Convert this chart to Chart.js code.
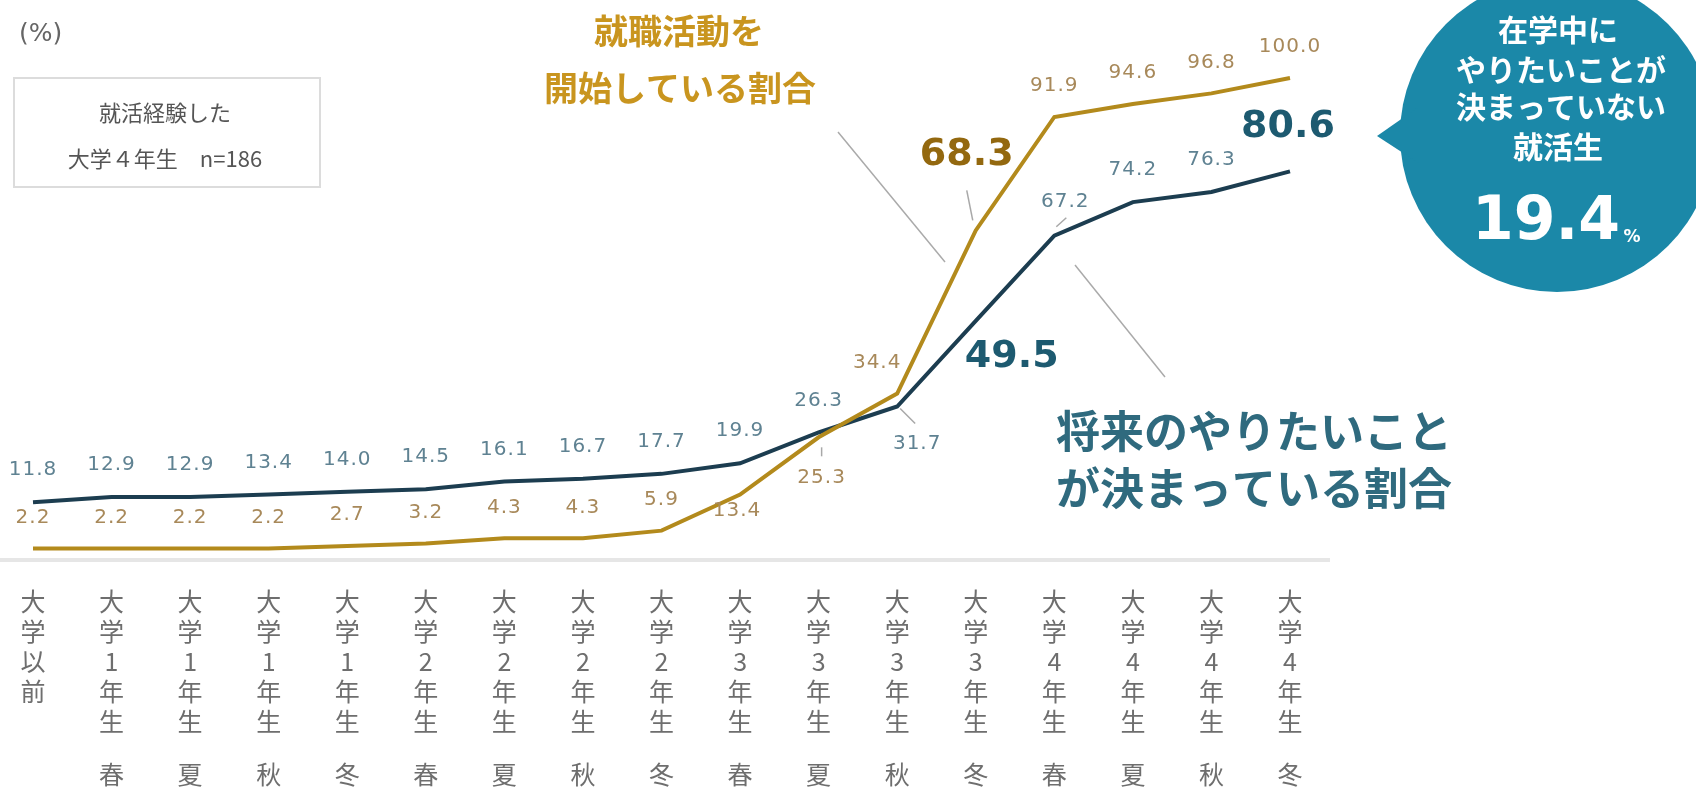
<!DOCTYPE html>
<html><head><meta charset="utf-8">
<script src="https://cdn.jsdelivr.net/npm/chart.js@4"></script>
<style>html,body{margin:0;padding:0;background:#fff;overflow:hidden}</style>
</head><body>
<canvas id="c" width="1696" height="789"></canvas>
<script>
// ---- data ----
const categories = ['大学以前','大学1年生','大学1年生','大学1年生','大学1年生','大学2年生','大学2年生','大学2年生','大学2年生','大学3年生','大学3年生','大学3年生','大学3年生','大学4年生','大学4年生','大学4年生','大学4年生'];
const seasons = ['', '春','夏','秋','冬','春','夏','秋','冬','春','夏','秋','冬','春','夏','秋','冬'];
const jobHuntStarted = [2.2,2.2,2.2,2.2,2.7,3.2,4.3,4.3,5.9,13.4,25.3,34.4,68.3,91.9,94.6,96.8,100.0];
const wantDecided = [11.8,12.9,12.9,13.4,14.0,14.5,16.1,16.7,17.7,19.9,26.3,31.7,49.5,67.2,74.2,76.3,80.6];
const seriesNames = ['就職活動を開始している割合','将来のやりたいことが決まっている割合'];
const undecidedShare = '19.4';
const sampleNote = ['就活経験した','大学４年生　n=186'];

// ---- styling ----
const ORANGE = '#b38a1c', BLUE = '#1c3d50';
const JP = '"Noto Sans CJK JP", "Noto Sans", sans-serif';
const NUM = '"DejaVu Sans", Lato, sans-serif';
const TICK_COLOR = '#6e6e6e';

const xLabels = categories.map(c => Array.from(c));

// label offsets (dx, dy) relative to point, and special styles
const orangeOffsets = {9:[-3,16],10:[3,40],11:[-20,-31],12:[-9,-75]};
const blueOffsets = {11:[20,37],12:[36,36],13:[11,-34],16:[-2,-44]};
const orangeBig = {12:true};
const blueBig = {12:true,16:true};

function line(ctx, x1, y1, x2, y2, color, w) {
  ctx.save(); ctx.strokeStyle = color; ctx.lineWidth = w;
  ctx.beginPath(); ctx.moveTo(x1, y1); ctx.lineTo(x2, y2); ctx.stroke(); ctx.restore();
}

const decor = {
  id: 'decor',
  beforeDatasetsDraw(chart) {
    const ctx = chart.ctx;
    const y0 = chart.scales.y.getPixelForValue(0);
    line(ctx, 0, y0 + 1, 1330, y0 + 1, '#e6e6e6', 4);
  },
  afterDraw(chart) {
    const ctx = chart.ctx;
    const xs = chart.scales.x;
    const mo = chart.getDatasetMeta(0).data;
    const mb = chart.getDatasetMeta(1).data;
    ctx.save();
    ctx.textAlign = 'center';
    ctx.textBaseline = 'middle';

    // season row under the category ticks
    ctx.font = '25px ' + JP; ctx.fillStyle = TICK_COLOR;
    seasons.forEach((s, i) => { if (s) ctx.fillText(s, xs.getPixelForValue(i), 774); });

    // data labels
    const small = (txt, x, y, color) => {
      ctx.save();
      ctx.font = '20px ' + NUM; ctx.fillStyle = color;
      if ('letterSpacing' in ctx) ctx.letterSpacing = '1px';
      ctx.fillText(txt, x, y);
      ctx.restore();
    };
    jobHuntStarted.forEach((v, i) => {
      const p = mo[i];
      const off = orangeOffsets[i] || [0, -31];
      if (orangeBig[i]) {
        ctx.font = 'bold 38px ' + NUM; ctx.fillStyle = '#93680f';
        ctx.fillText(v.toFixed(1), p.x + off[0], p.y + off[1]);
      } else {
        small(v.toFixed(1), p.x + off[0], p.y + off[1], '#a8895a');
      }
    });
    wantDecided.forEach((v, i) => {
      const p = mb[i];
      const off = blueOffsets[i] || [0, -32];
      if (blueBig[i]) {
        ctx.font = 'bold 38px ' + NUM; ctx.fillStyle = '#1d5a70';
        ctx.fillText(v.toFixed(1), p.x + off[0], p.y + off[1]);
      } else {
        small(v.toFixed(1), p.x + off[0], p.y + off[1], '#5f8292');
      }
    });

    // small leader lines
    const g = '#a8a8a8';
    let p = mo[12]; line(ctx, p.x - 9, p.y - 40, p.x - 3, p.y - 10, g, 1.5);
    p = mb[13]; line(ctx, p.x + 2, p.y - 9, p.x + 12, p.y - 18, g, 1.5);
    p = mo[10]; line(ctx, p.x + 3, p.y + 10, p.x + 3, p.y + 19, g, 1.5);
    p = mb[11]; line(ctx, p.x + 3, p.y + 2, p.x + 18, p.y + 17, g, 1.5);

    // series annotation leader lines
    line(ctx, 838, 132, 945, 262, '#aaaaaa', 1.5);
    line(ctx, 1075, 265, 1165, 377, '#aaaaaa', 1.5);

    // series titles
    ctx.font = 'bold 34px ' + JP; ctx.fillStyle = '#c9951f';
    ctx.fillText('就職活動を', 679, 31);
    ctx.fillText('開始している割合', 680, 88);
    ctx.font = 'bold 44px ' + JP; ctx.fillStyle = '#2f6a7e';
    ctx.textAlign = 'left';
    ctx.fillText('将来のやりたいこと', 1056, 431);
    ctx.fillText('が決まっている割合', 1056, 488);

    // (%)
    ctx.font = '25px ' + NUM; ctx.fillStyle = '#666';
    ctx.fillText('(%)', 19, 34);

    // sample box
    ctx.strokeStyle = '#dcdcdc'; ctx.lineWidth = 2;
    ctx.strokeRect(14, 78, 306, 109);
    ctx.textAlign = 'center';
    ctx.font = '22px ' + JP; ctx.fillStyle = '#555';
    ctx.fillText(sampleNote[0], 165, 113);
    ctx.fillText(sampleNote[1], 165, 159);

    // speech bubble
    const cx = 1557, cy = 135, r = 157;
    ctx.fillStyle = '#1b88a8';
    ctx.beginPath(); ctx.arc(cx, cy, r, 0, Math.PI * 2); ctx.fill();
    ctx.beginPath(); ctx.moveTo(1377, 136); ctx.lineTo(1420, 106); ctx.lineTo(1420, 164); ctx.closePath(); ctx.fill();
    ctx.fillStyle = '#fff';
    ctx.font = 'bold 30px ' + JP;
    ctx.fillText('在学中に', 1558, 30);
    ctx.fillText('やりたいことが', 1561, 70);
    ctx.fillText('決まっていない', 1561, 107);
    ctx.fillText('就活生', 1558, 147);
    ctx.font = 'bold 60px ' + NUM;
    ctx.fillText(undecidedShare, 1546, 223);
    ctx.font = 'bold 17px ' + NUM;
    ctx.fillText('%', 1632, 238);
    ctx.restore();
  }
};

new Chart(document.getElementById('c'), {
  type: 'line',
  data: {
    labels: xLabels,
    datasets: [
      { label: seriesNames[0], data: jobHuntStarted, borderColor: ORANGE, borderWidth: 4, pointRadius: 0, tension: 0, clip: false, fill: false },
      { label: seriesNames[1], data: wantDecided, borderColor: BLUE, borderWidth: 4, pointRadius: 0, tension: 0, clip: false, fill: false }
    ]
  },
  options: {
    responsive: false,
    animation: false,
    devicePixelRatio: 1,
    layout: { padding: { left: 33, right: 406, top: 78, bottom: 0 } },
    plugins: { legend: { display: false }, tooltip: { enabled: false } },
    scales: {
      x: {
        offset: false,
        grid: { display: false },
        border: { display: false },
        ticks: {
          autoSkip: false, maxRotation: 0, minRotation: 0, padding: 19,
          color: TICK_COLOR,
          font: { family: JP, size: 25, lineHeight: 30 / 25 }
        },
        afterFit: (s) => { s.height = 230; }
      },
      y: { display: false, min: 0, max: 100 }
    }
  },
  plugins: [decor]
});
</script>
</body></html>
